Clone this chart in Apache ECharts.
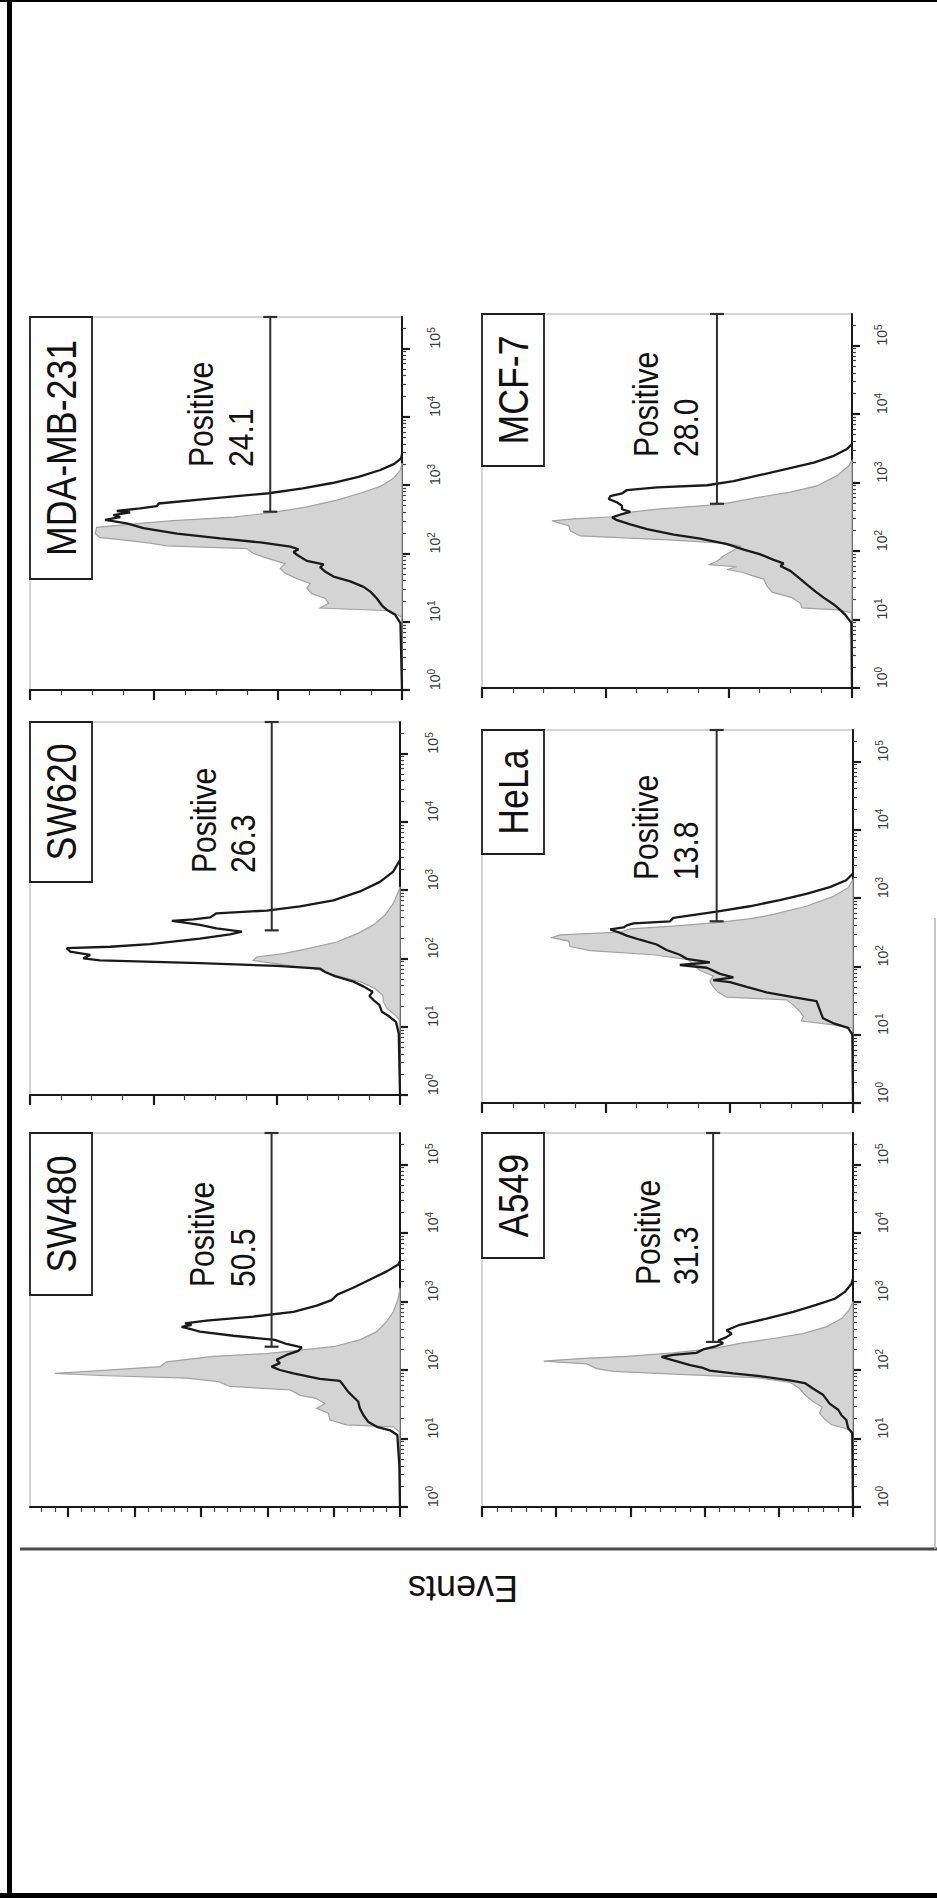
<!DOCTYPE html>
<html>
<head>
<meta charset="utf-8">
<script src="https://cdn.jsdelivr.net/npm/echarts@6/dist/echarts.min.js"></script>
<style>
html,body{margin:0;padding:0;background:#fff;}
#c{width:937px;height:1898px;}
</style>
</head>
<body>
<div id="c"></div>
<script>
// ---------------- DATA ----------------
// Panel order: MDA-MB-231, MCF-7, SW620, HeLa, SW480, A549
const CELL_LINES = ['MDA-MB-231', 'MCF-7', 'SW620', 'HeLa', 'SW480', 'A549'];
const POSITIVE_PCT = ['24.1', '28.0', '26.3', '13.8', '50.5', '31.3'];
const AXIS_TITLE = 'Events';
const GATE_LABEL = 'Positive';

// log10 fluorescence axis (decades), tick exponents
const LOG_MAX = 5.46;
const LOG_TICK_EXPONENTS = [0, 1, 2, 3, 4, 5];

// events (count) axis per panel
const EVENTS_MAX   = [120, 120, 120, 120, 111.5, 100];
const EVENTS_MAJOR = [40, 40, 40, 40, 20, 20];
const EVENTS_MINOR = [10, 10, 10, 10, 4, 4];

// gate bar: events level and start (decade); gate ends at axis max
const GATE_EVENTS = [42.5, 43.8, 41.6, 44.1, 38.7, 37.7];
const GATE_START  = [2.61, 2.69, 2.41, 2.66, 2.34, 2.41];

// Histogram curves: [decade, events]
const MDA_CTRL = [[0,0],[1.07,0.2],[1.16,3.8],[1.20,26.4],[1.27,23.7],[1.34,24.7],[1.41,29.1],[1.49,30.7],[1.56,29.6],[1.63,33.9],[1.71,37.7],[1.78,39.3],[1.85,37.7],[1.93,43.6],[2.00,47.9],[2.07,50.0],[2.11,75.9],[2.15,81.2],[2.20,90.9],[2.23,97.4],[2.29,99.0],[2.38,98.5],[2.44,84.5],[2.48,73.7],[2.53,54.3],[2.60,41.4],[2.68,30.7],[2.78,21.0],[2.88,13.5],[2.98,7.0],[3.10,2.7],[3.22,0.5],[3.32,0]];
const MDA_SAMPLE = [[0,0],[0.98,0.5],[1.10,2.2],[1.17,4.8],[1.24,6.5],[1.34,8.1],[1.44,10.2],[1.51,12.4],[1.59,16.7],[1.66,22.1],[1.73,24.7],[1.80,26.4],[1.84,25.3],[1.89,30.7],[1.98,33.9],[2.02,35.0],[2.06,33.4],[2.10,36.0],[2.16,45.7],[2.22,58.6],[2.29,72.6],[2.37,83.4],[2.44,88.8],[2.49,95.8],[2.53,90.9],[2.56,93.1],[2.60,87.7],[2.62,92.0],[2.66,84.5],[2.69,79.1],[2.73,78.5],[2.80,62.0],[2.88,43.0],[2.95,32.0],[3.03,22.5],[3.12,14.0],[3.22,7.0],[3.31,2.5],[3.39,0.3],[3.45,0]];

const MCF7_CTRL = [[0,0],[1.10,0.2],[1.14,4.9],[1.17,16.2],[1.24,16.8],[1.32,19.5],[1.40,25.9],[1.49,27.6],[1.59,28.6],[1.64,32.4],[1.69,35.7],[1.73,40.5],[1.77,37.3],[1.80,46.5],[1.85,43.8],[1.93,41.6],[2.01,38.4],[2.07,36.2],[2.11,40.5],[2.16,57.8],[2.22,88.1],[2.29,91.3],[2.37,91.9],[2.44,97.3],[2.47,90.3],[2.50,77.3],[2.56,73.0],[2.61,63.2],[2.68,42.7],[2.78,30.8],[2.86,20.0],[2.95,11.4],[3.10,4.9],[3.24,1.1],[3.32,0]];
const MCF7_SAMPLE = [[0,0],[0.95,0.2],[1.07,2.2],[1.16,4.3],[1.22,5.9],[1.32,9.2],[1.41,11.9],[1.51,14.6],[1.61,17.3],[1.71,20.0],[1.78,23.2],[1.82,22.2],[1.87,25.4],[1.95,29.7],[2.02,35.1],[2.10,40.5],[2.18,49.2],[2.24,57.8],[2.32,66.5],[2.39,71.9],[2.45,76.2],[2.49,77.8],[2.54,74.6],[2.57,71.9],[2.61,74.6],[2.66,74.6],[2.71,76.2],[2.76,78.9],[2.80,78.4],[2.84,74.6],[2.89,73.0],[2.93,63.2],[2.96,47.0],[3.02,38.4],[3.11,29.7],[3.20,21.1],[3.29,12.4],[3.39,5.9],[3.49,1.6],[3.56,0]];

const SW620_CTRL = [[0,0],[1.10,0.2],[1.17,1.6],[1.27,4.3],[1.37,5.4],[1.46,5.6],[1.56,8.1],[1.66,13.0],[1.76,21.6],[1.84,27.0],[1.90,36.8],[1.97,47.6],[2.02,46.5],[2.07,37.8],[2.15,29.2],[2.24,20.5],[2.37,13.5],[2.49,8.6],[2.63,4.9],[2.80,2.2],[2.98,0.5],[3.05,0]];
const SW620_SAMPLE = [[0,0],[0.90,0.4],[1.07,1.3],[1.16,3.8],[1.22,5.9],[1.32,6.7],[1.39,8.6],[1.45,9.9],[1.51,8.9],[1.59,11.9],[1.66,15.1],[1.74,21.1],[1.80,24.3],[1.85,25.9],[1.89,40.0],[1.93,64.9],[1.97,97.3],[2.00,102.7],[2.05,100.5],[2.10,107.0],[2.15,108.1],[2.17,94.0],[2.21,81.1],[2.29,64.9],[2.35,55.1],[2.39,51.3],[2.44,59.5],[2.49,64.9],[2.52,69.2],[2.55,74.0],[2.57,67.0],[2.60,61.6],[2.66,59.5],[2.70,43.2],[2.76,32.4],[2.85,21.6],[2.98,13.0],[3.12,6.5],[3.27,2.2],[3.44,0]];

const HELA_CTRL = [[0,0],[1.10,0.2],[1.15,7.5],[1.20,16.7],[1.27,16.1],[1.34,17.2],[1.44,19.4],[1.51,21.5],[1.55,40.9],[1.62,43.6],[1.70,45.2],[1.78,46.3],[1.86,45.2],[1.94,49.5],[2.02,51.6],[2.10,53.3],[2.17,64.6],[2.23,85.0],[2.29,91.5],[2.37,92.0],[2.42,97.4],[2.46,94.7],[2.50,75.3],[2.55,72.1],[2.59,58.1],[2.64,44.1],[2.70,33.0],[2.76,25.8],[2.88,15.1],[3.02,6.5],[3.15,1.6],[3.27,0]];
const HELA_SAMPLE = [[0,0],[1.00,0.2],[1.10,1.6],[1.17,6.5],[1.24,9.7],[1.37,10.8],[1.49,11.8],[1.55,19.4],[1.62,28.0],[1.70,34.4],[1.77,39.8],[1.80,45.2],[1.84,38.7],[1.89,43.0],[1.98,47.3],[2.02,56.0],[2.06,46.3],[2.11,53.8],[2.17,56.0],[2.24,60.3],[2.32,63.5],[2.39,68.9],[2.45,73.2],[2.49,75.3],[2.54,78.5],[2.57,74.2],[2.60,73.2],[2.63,71.0],[2.66,59.2],[2.71,58.1],[2.80,44.1],[2.88,33.4],[2.97,23.7],[3.06,15.1],[3.16,7.5],[3.26,2.2],[3.36,0]];

const SW480_CTRL = [[0,0],[1.10,0.2],[1.17,2.0],[1.20,16.1],[1.27,21.1],[1.37,21.6],[1.44,25.1],[1.51,22.6],[1.59,25.6],[1.63,30.1],[1.71,33.1],[1.76,51.2],[1.83,54.7],[1.88,64.3],[1.92,90.4],[1.95,104.0],[1.99,90.4],[2.05,72.3],[2.12,70.3],[2.20,56.3],[2.24,40.2],[2.29,30.1],[2.34,20.1],[2.44,12.1],[2.56,7.0],[2.71,4.0],[2.85,2.0],[3.05,0.5],[3.20,0]];
const SW480_SAMPLE = [[0,0],[0.61,0.2],[1.05,0.8],[1.12,3.0],[1.17,7.0],[1.24,9.5],[1.34,11.0],[1.44,12.1],[1.54,12.6],[1.61,14.1],[1.68,15.6],[1.78,17.1],[1.84,18.1],[1.87,24.1],[1.90,27.1],[1.95,32.1],[2.00,36.2],[2.05,38.7],[2.10,36.2],[2.15,37.2],[2.22,34.2],[2.28,30.6],[2.33,29.6],[2.38,34.2],[2.44,37.7],[2.50,50.2],[2.56,60.3],[2.60,63.3],[2.63,65.8],[2.66,62.8],[2.68,64.8],[2.72,58.3],[2.78,44.2],[2.85,32.1],[2.94,25.1],[3.02,20.6],[3.10,18.9],[3.20,14.1],[3.32,9.0],[3.44,4.0],[3.54,0.5],[3.59,0]];

const A549_CTRL = [[0,0],[1.10,0.2],[1.15,2.2],[1.20,5.8],[1.28,7.6],[1.37,9.0],[1.46,8.3],[1.54,10.8],[1.64,13.0],[1.73,14.4],[1.82,17.0],[1.89,26.0],[1.94,48.4],[1.98,64.6],[2.02,69.1],[2.09,71.8],[2.13,83.4],[2.17,72.6],[2.20,61.0],[2.25,48.4],[2.32,36.8],[2.39,30.5],[2.46,21.5],[2.53,13.5],[2.63,7.2],[2.75,3.1],[2.87,1.1],[3.00,0]];
const A549_SAMPLE = [[0,0],[1.08,0.2],[1.15,1.3],[1.27,1.8],[1.34,3.1],[1.42,4.0],[1.51,6.3],[1.64,8.1],[1.73,10.8],[1.81,13.0],[1.85,17.0],[1.91,25.1],[1.95,32.3],[1.99,38.6],[2.03,40.4],[2.07,43.9],[2.14,48.4],[2.19,51.6],[2.22,48.4],[2.25,42.2],[2.30,40.4],[2.35,36.8],[2.39,35.0],[2.43,36.3],[2.48,34.1],[2.53,32.7],[2.58,34.1],[2.66,30.5],[2.75,23.3],[2.85,16.1],[2.95,9.9],[3.04,4.9],[3.14,2.2],[3.26,0.4],[3.33,0]];

const CONTROLS = [MDA_CTRL, MCF7_CTRL, SW620_CTRL, HELA_CTRL, SW480_CTRL, A549_CTRL];
const SAMPLES  = [MDA_SAMPLE, MCF7_SAMPLE, SW620_SAMPLE, HELA_SAMPLE, SW480_SAMPLE, A549_SAMPLE];

// ---------------- LAYOUT (pixels) ----------------
const LAYOUT = [
  {left:30,  top:317,  width:372, height:373, box:262, t1:170.5, t2:210.5, ty:150, lm:33},
  {left:482, top:314,  width:370, height:374, box:152, t1:163.5, t2:203.5, ty:143, lm:30},
  {left:30,  top:722,  width:370, height:373, box:160, t1:173.5, t2:212.5, ty:151, lm:33},
  {left:482, top:730,  width:371, height:373, box:124, t1:163.5, t2:203.5, ty:150, lm:30},
  {left:30,  top:1133, width:370, height:374, box:162, t1:172,   t2:213,   ty:154, lm:33},
  {left:482, top:1133, width:371, height:374, box:125, t1:165.5, t2:203.5, ty:152, lm:30}
];
const FONT = "'Liberation Sans', Arial, Helvetica, sans-serif";
const C_AXIS = '#1a1a1a';

// log minor tick positions
const LOG_MINOR = [];
for (let n = 0; n <= 5; n++) {
  for (let k = 2; k <= 9; k++) {
    const v = n + Math.log10(k);
    if (v < LOG_MAX) LOG_MINOR.push(+v.toFixed(4));
  }
}

const chart = echarts.init(document.getElementById('c'), null, {renderer: 'svg', width: 937, height: 1898});

const grids = [], xAxes = [], yAxes = [], series = [], graphics = [];

CELL_LINES.forEach((name, i) => {
  const L = LAYOUT[i];
  grids.push({
    left: L.left, top: L.top, width: L.width, height: L.height,
    show: true, borderColor: '#c6c6c6', borderWidth: 1.5, backgroundColor: '#fff',
    containLabel: false, outerBoundsMode: 'none'
  });
  const M = EVENTS_MAX[i], step = EVENTS_MAJOR[i], mstep = EVENTS_MINOR[i];
  const majors = [], minors = [];
  for (let v = 0; v <= M + 1e-9; v += step) majors.push(+v.toFixed(3));
  for (let v = mstep; v < M - 1e-9; v += mstep) {
    if (Math.abs(v / step - Math.round(v / step)) > 1e-6) minors.push(+v.toFixed(3));
  }
  const xCommon = {gridIndex: i, type: 'value', min: 0, max: M, inverse: true, position: 'bottom',
    axisLabel: {show: false}, splitLine: {show: false}, splitArea: {show: false}};
  xAxes.push(Object.assign({}, xCommon, {
    axisLine: {show: true, onZero: false, lineStyle: {color: C_AXIS, width: 2}},
    axisTick: {show: true, customValues: majors, length: 10, lineStyle: {color: C_AXIS, width: 2.2}}
  }));
  xAxes.push(Object.assign({}, xCommon, {
    axisLine: {show: false, onZero: false},
    axisTick: {show: true, customValues: minors, length: 5, lineStyle: {color: '#3c3c3c', width: 1.2}}
  }));
  const yCommon = {gridIndex: i, type: 'value', min: 0, max: LOG_MAX, position: 'right',
    splitLine: {show: false}, splitArea: {show: false}};
  yAxes.push(Object.assign({}, yCommon, {
    axisLine: {show: true, onZero: false, lineStyle: {color: C_AXIS, width: 2}},
    axisTick: {show: true, customValues: LOG_TICK_EXPONENTS, length: 8, lineStyle: {color: C_AXIS, width: 2.2}},
    axisLabel: {
      show: true, customValues: LOG_TICK_EXPONENTS, rotate: 90, align: 'left', verticalAlign: 'middle',
      margin: L.lm, hideOverlap: false,
      formatter: v => '{b|10}{s|' + Math.round(v) + '}',
      rich: {
        b: {fontSize: 14, fontFamily: FONT, color: '#3a3a3a', lineHeight: 18},
        s: {fontSize: 10, fontFamily: FONT, color: '#3a3a3a', verticalAlign: 'top', lineHeight: 10}
      }
    }
  }));
  yAxes.push(Object.assign({}, yCommon, {
    axisLine: {show: false, onZero: false},
    axisTick: {show: true, customValues: LOG_MINOR, length: 4, lineStyle: {color: '#3c3c3c', width: 1.2}},
    axisLabel: {show: false}
  }));

  // control (isotype) histogram, filled gray
  const ctrlData = CONTROLS[i].map(d => [d[1], d[0]]);
  series.push({
    type: 'custom', name: name + ' control', xAxisIndex: 2 * i, yAxisIndex: 2 * i,
    data: ctrlData, encode: {x: 0, y: 1}, silent: true, z: 2,
    renderItem: (params, api) => {
      if (params.dataIndex !== 0) return null;
      const pts = ctrlData.map(d => api.coord(d));
      return {type: 'polygon', shape: {points: pts},
        style: {fill: '#d4d4d4', stroke: '#a2a2a2', lineWidth: 1.2}};
    }
  });
  // sample histogram, dark line
  series.push({
    type: 'line', name: name, xAxisIndex: 2 * i, yAxisIndex: 2 * i,
    data: SAMPLES[i].map(d => [d[1], d[0]]),
    showSymbol: false, symbol: 'none', silent: true, z: 3,
    lineStyle: {color: '#1a1a1a', width: 2.3}
  });
  // gate bar
  series.push({
    type: 'line', name: name + ' gate', xAxisIndex: 2 * i, yAxisIndex: 2 * i,
    data: [[GATE_EVENTS[i], GATE_START[i]], [GATE_EVENTS[i], LOG_MAX]],
    symbol: 'rect', symbolSize: [14, 2.2], showSymbol: true, silent: true, z: 4,
    itemStyle: {color: '#2e2e2e'}, lineStyle: {color: '#2e2e2e', width: 2}
  });

  // cell line label box
  graphics.push({type: 'rect', z: 10, silent: true,
    shape: {x: L.left, y: L.top, width: 62, height: L.box},
    style: {fill: '#fff', stroke: '#1e1e1e', lineWidth: 1.8}});
  graphics.push({type: 'text', z: 11, silent: true,
    x: L.left + 31, y: L.top + L.box / 2, rotation: Math.PI / 2, scaleX: 0.85,
    style: {text: name, fontSize: 42, fontFamily: FONT, fill: '#111', align: 'center', verticalAlign: 'middle'}});
  // gate text
  graphics.push({type: 'text', z: 11, silent: true,
    x: L.left + L.t1, y: L.top + L.ty, rotation: Math.PI / 2, scaleX: 0.86,
    style: {text: GATE_LABEL, fontSize: 35, fontFamily: FONT, fill: '#111', align: 'left', verticalAlign: 'middle'}});
  graphics.push({type: 'text', z: 11, silent: true,
    x: L.left + L.t2, y: L.top + L.ty, rotation: Math.PI / 2, scaleX: 0.86,
    style: {text: POSITIVE_PCT[i], fontSize: 35, fontFamily: FONT, fill: '#111', align: 'left', verticalAlign: 'middle'}});
});

// axis title and frame
graphics.push({type: 'text', z: 11, silent: true, x: 463, y: 1588, rotation: Math.PI,
  style: {text: AXIS_TITLE, fontSize: 36, fontFamily: FONT, fill: '#111', align: 'center', verticalAlign: 'middle'}});
graphics.push({type: 'line', z: 12, silent: true, shape: {x1: 20, y1: 1549, x2: 937, y2: 1549}, style: {stroke: '#4a4a4a', lineWidth: 3}});
graphics.push({type: 'line', z: 12, silent: true, shape: {x1: 935, y1: 918, x2: 935, y2: 1549}, style: {stroke: '#b4b4b4', lineWidth: 1.5}});
graphics.push({type: 'line', z: 12, silent: true, shape: {x1: 9.5, y1: 0, x2: 9.5, y2: 1898}, style: {stroke: '#000', lineWidth: 5}});
graphics.push({type: 'line', z: 12, silent: true, shape: {x1: 0, y1: 1, x2: 937, y2: 1}, style: {stroke: '#000', lineWidth: 2}});
graphics.push({type: 'line', z: 12, silent: true, shape: {x1: 0, y1: 1895.5, x2: 937, y2: 1895.5}, style: {stroke: '#000', lineWidth: 5}});

chart.setOption({
  animation: false,
  backgroundColor: '#fff',
  grid: grids,
  xAxis: xAxes,
  yAxis: yAxes,
  series: series,
  graphic: graphics
});
</script>
</body>
</html>
